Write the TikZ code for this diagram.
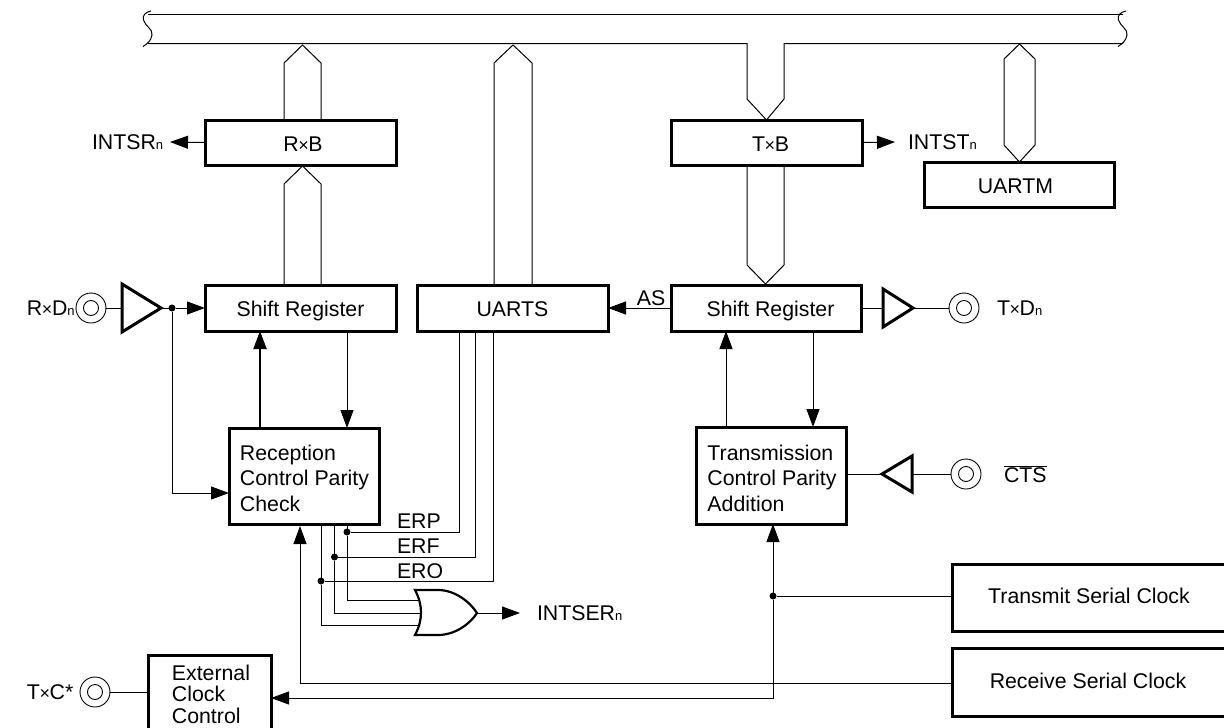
\documentclass[tikz,border=0pt]{standalone}
\usepackage{fontspec}
\setmainfont{Liberation Sans}
\usetikzlibrary{arrows.meta}
\newcommand{\mytimes}{{\kern-0.4pt\fontsize{18}{18}\selectfont ×\kern-0.4pt}}
\newcommand{\mysub}[1]{{\fontsize{13}{13}\selectfont #1}}
\tikzset{
  x=1pt,y=-1pt,
  every node/.style={font=\fontsize{21.3}{25.5}\selectfont,inner sep=0pt,outer sep=0pt},
  wire/.style={line width=1pt,line join=miter},
  thickwire/.style={line width=2pt},
  arrowed/.style={-{Triangle[length=18pt,width=13pt]}},
  block/.style={draw,line width=3pt,rectangle,align=left,minimum width=#1},
  oneline/.style={text height=17pt,text depth=0pt},
  pinouter/.style={draw,circle,line width=0.9pt,minimum size=30pt},
  pininner/.style={draw,circle,line width=0.9pt,minimum size=15pt},
  dot/.style={fill,circle,minimum size=7pt},
  buffer/.style={line width=3pt,line join=miter},
  label/.style={anchor=west},
}
\begin{document}
\begin{tikzpicture}
\useasboundingbox (0,0) rectangle (1224,728);
\clip (0,0) rectangle (1224,728);
% blocks
\node[block=191pt,minimum height=45pt] (rxb) at (300.5,142.5) {};
\node[oneline] (rxbtext) at (303,142.5) {R\mytimes B};
\node[block=191pt,minimum height=45pt] (txb) at (766.5,142.5) {};
\node[oneline] (txbtext) at (770.5,142.5) {T\mytimes B};
\node[block=190pt,minimum height=45pt] (uartm) at (1019.5,184.5) {};
\node[oneline] (uartmtext) at (1015.5,184.5) {UARTM};
\node[block=191pt,minimum height=46pt,oneline] (srl) at (300.5,308) {Shift Register};
\node[block=191pt,minimum height=46pt,oneline] (uarts) at (512.5,308) {UARTS};
\node[block=190pt,minimum height=46pt] (srr) at (766,308) {};
\node[oneline] (srrtext) at (770.5,308) {Shift Register};
\node[block=150pt,minimum height=96pt] (rx) at (304,476) {};
\node[align=left] (rxtext) at (304.5,478) {Reception\\Control Parity\\Check};
\node[block=150pt,minimum height=97pt] (tx) at (771,475.5) {};
\node[align=left] (txtext) at (772,478) {Transmission\\Control Parity\\Addition};
\node[block=123pt,minimum height=74pt] (ext) at (209.5,692) {};
\node[align=left,font=\fontsize{21.3}{21.5}\selectfont] (exttext) at (211,694) {External\\Clock\\Control};
\node[block=300pt,minimum height=67pt] (tsc) at (1102,597.5) {};
\node[block=300pt,minimum height=68pt] (rsc) at (1102,682) {};
\node (tsctext) at (1089,596) {Transmit Serial Clock};
\node (rsctext) at (1088,681) {Receive Serial Clock};
% bus
\draw[wire] (151,11) .. controls (146,12) and (142,15) .. (143.5,20) .. controls (145,26) and (153,29) .. (152,35) .. controls (151,41) and (147,44) .. (143,46.5);
\draw[wire] (1126,11) .. controls (1121,12) and (1117,15) .. (1118.5,20) .. controls (1120,26) and (1128,29) .. (1127,35) .. controls (1126,41) and (1122,44) .. (1118,46.5);
\draw[wire] (148,14.5) -- (1123,14.5);
\coordinate (busb) at (148,43.5);
\draw[wire] (busb) -- (747,43.5) -- (747,99) -- (txb.north) -- (784,99) -- (784,43.5) -- (1123,43.5);
% bus branches
\draw[wire] (284,0 |- rxb.north) -- (284,63) -- (302.5,45) -- (321,63) -- (321,0 |- rxb.north);
\draw[wire] (284,0 |- srl.north) -- (284,184) -- (302.5,166) -- (321,184) -- (321,0 |- srl.north);
\draw[wire] (494,0 |- uarts.north) -- (494,63) -- (513,45) -- (532,63) -- (532,0 |- uarts.north);
\draw[wire] (747,0 |- txb.south) -- (747,265) -- (765.5,284) -- (784,265) -- (784,0 |- txb.south);
\draw[wire] (uartm.north) -- (1004,145) -- (1004,59) -- (1019.5,44) -- (1035,59) -- (1035,145) -- (uartm.north);
% interrupts
\node[label] (intsr) at (92,142) {INTSR\mysub{n}};
\node[label] (intst) at (908,142) {INTST\mysub{n}};
\node[label] (intser) at (537,613) {INTSER\mysub{n}};
\coordinate (intsrend) at (170,142);
\coordinate (intstend) at (895,142);
\coordinate (intserend) at (520,613);
\draw[wire,arrowed] (rxb.west) -- (intsrend);
\draw[wire,arrowed] (txb.east) -- (intstend);
% RxD
\node[pinouter] (rxdo) at (91,308) {};
\node[pininner] (rxdi) at (91,308) {};
\node[label] (rxdt) at (27,308) {R\mytimes D\mysub{n}};
\coordinate (rbtip) at (161,308);
\draw[wire] (rxdo.east) -- (122,308);
\draw[buffer] (122,284) -- (rbtip) -- (122,332) -- cycle;
\node[dot] (rxj) at (172,308) {};
\draw[wire] (rbtip) -- (rxj);
\draw[wire,arrowed] (rxj) -- (srl.west);
\draw[wire,arrowed] (rxj) -- (172,493) -- (rx.west |- 0,493);
\draw[thickwire,arrowed] (260,0 |- rx.north) -- (260,0 |- srl.south);
\draw[wire,arrowed] (347,0 |- srl.south) -- (347,0 |- rx.north);
% TxD
\coordinate (tbtip) at (913,308);
\node[pinouter] (txdo) at (964,308) {};
\node[pininner] (txdi) at (964,308) {};
\node[label] (txdt) at (997,308) {T\mytimes D\mysub{n}};
\draw[wire] (srr.east) -- (883,308);
\draw[buffer] (883,289) -- (tbtip) -- (883,327) -- cycle;
\draw[wire] (tbtip) -- (txdo.west);
\draw[wire,arrowed] (srr.west) -- (uarts.east);
\node (as) at (651,298) {AS};
\draw[wire,arrowed] (726,0 |- tx.north) -- (726,0 |- srr.south);
\draw[wire,arrowed] (813,0 |- srr.south) -- (813,0 |- tx.north);
% CTS
\coordinate (cbtip) at (882,474);
\node[pinouter] (ctso) at (966,474) {};
\node[pininner] (ctsi) at (966,474) {};
\node[label] (ctst) at (1004,474) {$\overline{\mbox{CTS}}$};
\draw[wire] (tx.east |- cbtip) -- (cbtip);
\draw[buffer] (912,456) -- (cbtip) -- (912,492) -- cycle;
\draw[wire] (912,474) -- (ctso.west);
% error flags
\node[dot] (erpj) at (347,532) {};
\node[dot] (erfj) at (334.5,557) {};
\node[dot] (eroj) at (321,581) {};
\node[label] (erp) at (397,521) {ERP};
\node[label] (erf) at (397,546) {ERF};
\node[label] (ero) at (397,571) {ERO};
\draw[wire] (459,0 |- uarts.south) -- (459,532) -- (erpj);
\draw[wire] (475,0 |- uarts.south) -- (475,557) -- (erfj);
\draw[wire] (493,0 |- uarts.south) -- (493,581) -- (eroj);
\coordinate (gatein1) at (419,600);
\coordinate (gatein2) at (421,613);
\coordinate (gatein3) at (419,625);
\draw[wire] (347,0 |- rx.south) -- (erpj) -- (347,600) -- (gatein1);
\draw[wire] (334.5,0 |- rx.south) -- (erfj) -- (334.5,613) -- (gatein2);
\draw[wire] (321,0 |- rx.south) -- (eroj) -- (321,625) -- (gatein3);
\coordinate (gateout) at (477,613);
\draw[line width=2.2pt,line join=miter] (415,590) -- (438,590) .. controls (455,590) and (470,602) .. (gateout) .. controls (470,624) and (455,635) .. (438,635) -- (415,635) .. controls (423,620) and (423,605) .. (415,590) -- cycle;
\draw[wire,arrowed] (gateout) -- (intserend);
% clocks
\node[dot] (tcj) at (773,596) {};
\draw[wire] (tsc.west |- tcj) -- (tcj);
\draw[wire,arrowed] (tcj) -- (773,0 |- tx.south);
\draw[wire,arrowed] (tcj) -- (773,698) -- (ext.east |- 0,698);
\draw[wire,arrowed] (rsc.west |- 0,683) -- (300,683) -- (300,526);
% TxC
\node[pinouter] (txco) at (95,692) {};
\node[pininner] (txci) at (95,692) {};
\node[label] (txct) at (27,692) {T\mytimes C*};
\draw[wire] (txco.east) -- (ext.west);
\end{tikzpicture}
\end{document}
